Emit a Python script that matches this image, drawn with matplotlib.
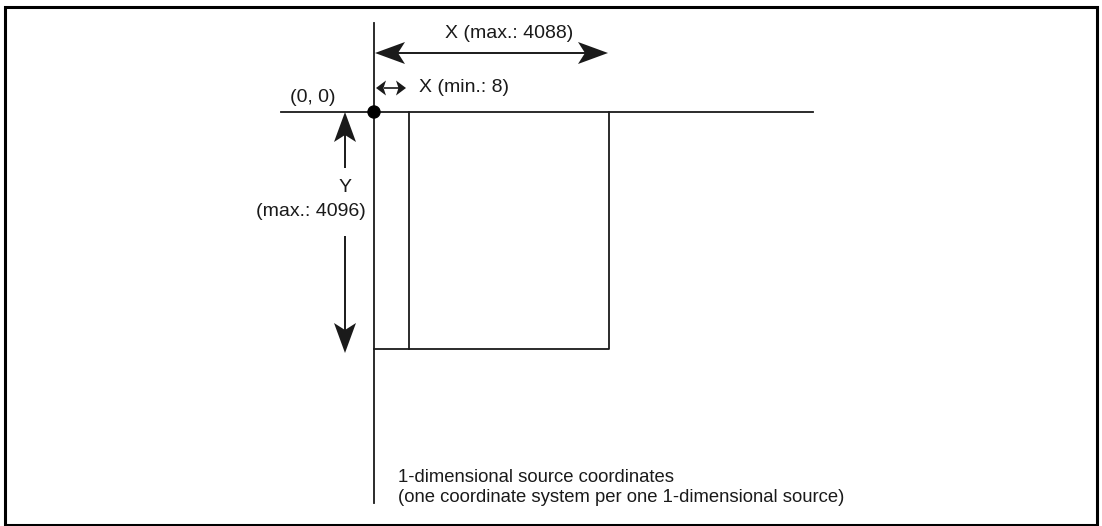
import numpy as np
import matplotlib
matplotlib.use('Agg')
import matplotlib.pyplot as plt
from matplotlib.patches import Polygon, Circle, Rectangle

plt.rcParams['font.family'] = ['Liberation Sans', 'DejaVu Sans']

# diagram geometry in pixel units (y downward)
W, H = 1102, 526
origin = (374, 112)
axis_x_end = 813
axis_y_top, axis_y_bottom = 23, 503
axis_x_start = 281
rect_x = [374, 409, 609]
rect_bottom = 349

labels = {
    'xmax': ('X (max.: 4088)', 509, 33),
    'xmin': ('X (min.: 8)', 419, 88),
    'origin': ('(0, 0)', 313, 97),
    'y': ('Y', 345, 188),
    'ymax': ('(max.: 4096)', 311, 211),
}
note_lines = ['1-dimensional source coordinates',
              '(one coordinate system per one 1-dimensional source)']

fig = plt.figure(figsize=(W / 100, H / 100), dpi=100)
ax = fig.add_axes([0, 0, 1, 1])
ax.set_xlim(0, W)
ax.set_ylim(H, 0)
ax.axis('off')

lc = '#1a1a1a'


def head(tip, direction, length, half_w, notch):
    d = np.array(direction, float)
    d = d / np.linalg.norm(d)
    n = np.array([-d[1], d[0]])
    t = np.array(tip, float)
    back = t - d * length
    pts = [t, back + n * half_w, t - d * (length - notch), back - n * half_w]
    ax.add_patch(Polygon(pts, closed=True, color=lc, lw=0, zorder=3))


def arrow(p0, p1, length=30, half_w=11, notch=7, both=True, lw=1.4):
    p0 = np.array(p0, float)
    p1 = np.array(p1, float)
    d = (p1 - p0) / np.linalg.norm(p1 - p0)
    inset = length - notch
    a = p0 + d * inset if both else p0
    b = p1 - d * inset
    ax.plot([a[0], b[0]], [a[1], b[1]], color=lc, lw=lw, solid_capstyle='butt')
    head(p1, p1 - p0, length, half_w, notch)
    if both:
        head(p0, p0 - p1, length, half_w, notch)


# frame
ax.add_patch(Rectangle((5, 7), 1092, 518, fill=False, ec='black', lw=2.2))

# axes
ax.plot([axis_x_start, axis_x_end], [origin[1]] * 2, color=lc, lw=1.3)
ax.plot([origin[0]] * 2, [axis_y_top, axis_y_bottom], color=lc, lw=1.3)

# source rectangle
ax.plot([rect_x[0], rect_x[2], rect_x[2]], [rect_bottom, rect_bottom, origin[1]], color=lc, lw=1.3)
ax.plot([rect_x[1], rect_x[1]], [origin[1], rect_bottom], color=lc, lw=1.3)

# origin dot
ax.add_patch(Circle(origin, 6, color='black', zorder=5))

# X max arrow
arrow((375, 53), (608, 53))
# X min arrow
arrow((376, 88), (406, 88), length=10, half_w=7.5, notch=2.5, lw=1.2)
# Y arrows
arrow((345, 168), (345, 112), both=False)
arrow((345, 236), (345, 353), both=False)

fs = 14
for key, (txt, x, y) in labels.items():
    ha = 'left' if key == 'xmin' else 'center'
    ax.text(x, y, txt, ha=ha, va='center', fontsize=fs, color=lc)

for i, line in enumerate(note_lines):
    ax.text(398, 478 + i * 19, line, ha='left', va='center', fontsize=13.3, color=lc)

fig.savefig('out.png', dpi=100)
